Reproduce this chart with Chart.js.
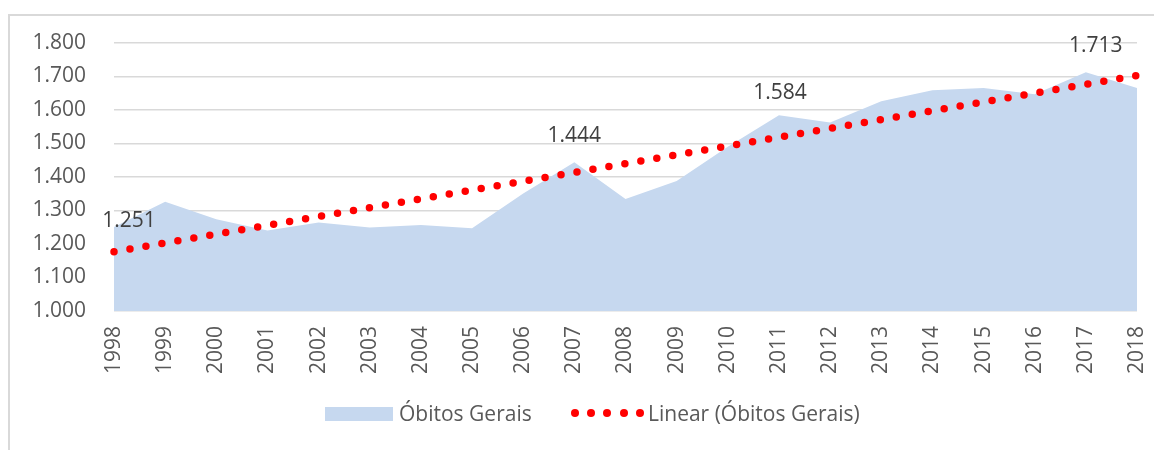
<!DOCTYPE html>
<html lang="pt-BR">
<head>
<meta charset="utf-8">
<title>Óbitos Gerais 1998-2018</title>
<script src="https://cdn.jsdelivr.net/npm/chart.js@4.4.1/dist/chart.umd.min.js"></script>
<style>
  html, body { margin: 0; padding: 0; background: #fff; overflow: hidden; }
  #wrap { position: relative; width: 1154px; height: 450px; }
  #frame {
    position: absolute; left: 8px; top: 14px; width: 2000px; height: 2000px;
    border-left: 2px solid #d9d9d9; border-top: 2px solid #d9d9d9;
  }
  canvas { position: absolute; left: 0; top: 0; }
  .lg { position: absolute; font: 21px "Open Sans", sans-serif; color: #595959; line-height: 26px; top: 400px; white-space: nowrap; }
  .sw { position: absolute; left: 325px; top: 407px; width: 68px; height: 14px; background: rgb(198,216,239); }
  .dot { position: absolute; top: 409px; width: 8px; height: 8px; border-radius: 50%; background: #ff0000; }
</style>
</head>
<body>
<div id="wrap">
  <div id="frame"></div>
  <canvas id="chart" width="1154" height="450"></canvas>
  <div class="sw"></div>
  <div class="lg" style="left:399px">Óbitos Gerais</div>
  <div id="dots"></div>
  <div class="lg" style="left:648px">Linear (Óbitos Gerais)</div>
</div>
<script>
// ── data ───────────────────────────────────────────────────────────
const years = [
  '1998','1999','2000','2001','2002','2003','2004',
  '2005','2006','2007','2008','2009','2010','2011',
  '2012','2013','2014','2015','2016','2017','2018'
];

const obitos = [
  1251, 1326, 1274, 1240, 1264, 1249, 1257,
  1247, 1351, 1444, 1334, 1388, 1490, 1584,
  1563, 1626, 1659, 1666, 1647, 1713, 1666
];

// trendline ends (Excel linear trend)
const trendStart = 1177;
const trendEnd   = 1703;

// which points carry a value label
const labelledYears = ['1998', '2007', '2011', '2017'];

const yTicks = [1000, 1100, 1200, 1300, 1400, 1500, 1600, 1700, 1800];

function fmt(v) {
  const th = Math.floor(v / 1000);
  const rest = String(Math.round(v % 1000)).padStart(3, '0');
  return th + '.' + rest;
}

const trendData = years.map((_, i) =>
  i === 0 ? trendStart : (i === years.length - 1 ? trendEnd : null));

// small labels above selected points
const pointLabels = {
  id: 'pointLabels',
  afterDatasetsDraw(chart, args, opts) {
    const ctx = chart.ctx;
    const meta = chart.getDatasetMeta(0);
    ctx.save();
    ctx.font = opts.font;
    ctx.fillStyle = opts.color;
    ctx.textAlign = 'center';
    ctx.textBaseline = 'middle';
    labelledYears.forEach(yr => {
      const i = years.indexOf(yr);
      const pt = meta.data[i];
      const n = opts.nudge[yr] || { dx: 0, dy: 0 };
      ctx.fillText(fmt(obitos[i]), pt.x + n.dx, pt.y + opts.offset + n.dy);
    });
    ctx.restore();
  }
};

function drawChart() {
  const ctx = document.getElementById('chart').getContext('2d');
  const tickFont = { family: 'Open Sans', size: 21 };

  new Chart(ctx, {
    type: 'line',
    data: {
      labels: years,
      datasets: [
        {
          label: 'Óbitos Gerais',
          data: obitos,
          backgroundColor: 'rgb(198,216,239)',
          borderWidth: 0,
          fill: 'start',
          tension: 0,
          pointRadius: 0,
          order: 1
        },
        {
          label: 'Linear (Óbitos Gerais)',
          data: trendData,
          spanGaps: true,
          borderColor: '#ff0000',
          borderWidth: 7.5,
          borderCapStyle: 'round',
          borderDash: [0, 16.2],
          fill: false,
          pointRadius: 0,
          clip: 10,
          order: 0
        }
      ]
    },
    options: {
      responsive: false,
      animation: false,
      layout: { padding: { top: 43, right: 17, left: 0, bottom: 0 } },
      plugins: {
        legend: { display: false },
        tooltip: { enabled: false },
        pointLabels: {
          font: '21px "Open Sans"',
          color: '#404040',
          offset: -26,
          nudge: {
            '1998': { dx: 15, dy: 20 },
            '2011': { dx: 1, dy: 4 },
            '2017': { dx: 10, dy: 0 }
          }
        }
      },
      scales: {
        x: {
          offset: false,
          grid: { display: false, drawTicks: false },
          border: { display: false },
          ticks: {
            color: '#595959',
            font: tickFont,
            minRotation: 90,
            maxRotation: 90,
            autoSkip: false,
            padding: 15
          },
          afterFit: (s) => {
            s.height = 139;
            s.paddingLeft = 0;
            s.paddingRight = 0;
          }
        },
        y: {
          min: 1000,
          max: 1800,
          afterBuildTicks: (s) => { s.ticks = yTicks.map(v => ({ value: v })); },
          grid: { color: '#d9d9d9', lineWidth: 1.5, drawTicks: false },
          border: { display: false },
          ticks: {
            color: '#595959',
            font: tickFont,
            padding: 28,
            callback: (v) => fmt(v)
          },
          afterFit: (s) => { s.width = 114; }
        }
      }
    },
    plugins: [pointLabels]
  });
}

function drawLegendDots() {
  const box = document.getElementById('dots');
  for (let k = 0; k < 5; k++) {
    const d = document.createElement('div');
    d.className = 'dot';
    d.style.left = (571 + k * 16.2) + 'px';
    box.appendChild(d);
  }
}

window.addEventListener('DOMContentLoaded', () => {
  drawChart();
  drawLegendDots();
});
</script>
</body>
</html>
